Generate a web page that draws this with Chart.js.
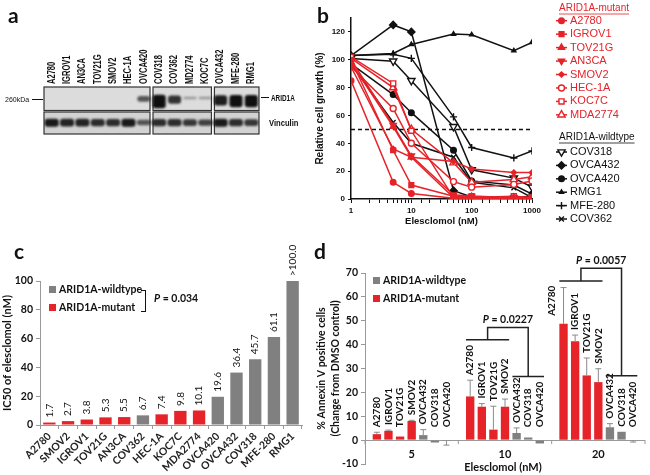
<!DOCTYPE html>
<html lang="en">
<head>
<meta charset="UTF-8">
<title>Elesclomol sensitivity of ARID1A-mutant cells</title>
<script src="https://cdn.jsdelivr.net/npm/chart.js"></script>
<style>
  body { margin: 0; background: #fff; }
  #fig { position: relative; width: 650px; height: 475px; overflow: hidden; color: #111; }
  #fig canvas { position: absolute; }
  .txt { position: absolute; white-space: nowrap; line-height: 1; }
  .panel { font: bold 21px Lato, sans-serif; }
  .blot { font-family: "Liberation Sans", sans-serif; font-weight: bold; transform-origin: 0 50%; }
  .key { font: bold 10.5px Lato, sans-serif; display: flex; align-items: center; height: 12px; }
  .key i.sw { display: inline-block; width: 7px; height: 7px; margin-right: 3px; }
  .rule { position: absolute; border-top: 1.2px solid #111; }
</style>
</head>
<body>
<div id="fig">
  <canvas id="blotChart" width="325" height="150" style="left:0;top:0"></canvas>
  <canvas id="growthChart" width="338" height="240" style="left:312px;top:0"></canvas>
  <canvas id="ic50Chart" width="312" height="235" style="left:0;top:240px"></canvas>
  <canvas id="annexinChart" width="338" height="235" style="left:312px;top:240px"></canvas>

  <div class="txt panel" style="left:8px;top:2px">a</div>
  <div class="txt panel" style="left:317px;top:2px">b</div>
  <div class="txt panel" style="left:14px;top:238px">c</div>
  <div class="txt panel" style="left:314px;top:238px">d</div>

  <!-- panel a side labels -->
  <div class="txt blot" style="left:5px;top:95.5px;font-size:7px;font-weight:normal">260kDa</div>
  <div class="rule" style="left:32px;top:99px;width:11px"></div>
  <div class="rule" style="left:261px;top:97px;width:8px;border-top-width:1.6px"></div>
  <div class="txt blot" style="left:271px;top:93.5px;font-size:8.5px;transform:scaleX(0.75)">ARID1A</div>
  <div class="txt blot" style="left:269px;top:118px;font-size:9.5px;transform:scaleX(0.8)">Vinculin</div>

  <!-- panel c key -->
  <div class="txt key" style="left:49px;top:283px"><i class="sw" style="background:#808080"></i>ARID1A-wildtype</div>
  <div class="txt key" style="left:49px;top:301px"><i class="sw" style="background:#e52329"></i>ARID1A-mutant</div>
  <div style="position:absolute;left:141px;top:290px;width:4px;height:20px;border:1.5px solid #111;border-left:none"></div>
  <div class="txt key" style="left:154px;top:292px"><i>P</i>&nbsp;= 0.034</div>

  <!-- panel d key -->
  <div class="txt key" style="left:373px;top:274px"><i class="sw" style="background:#808080"></i>ARID1A-wildtype</div>
  <div class="txt key" style="left:373px;top:292px"><i class="sw" style="background:#e52329"></i>ARID1A-mutant</div>
</div>

<script>
// ---------- data ----------
// a: blot lanes and band strength (0 none .. 1 strongest)
const blotLanes = ['A2780', 'IGROV1', 'AN3CA', 'TOV21G', 'SMOV2', 'HEC-1A', 'OVCA420',
                   'COV318', 'COV362', 'MD2774', 'KOC7C', 'OVCA432', 'MFE-280', 'RMG1'];
const arid1aBand = [0, 0, 0, 0, 0, 0, 0.6, 1, 0.75, 0.3, 0.3, 0.85, 0.95, 0.95];
const vinculinBand = [0.95, 0.9, 0.9, 0.85, 0.85, 0.95, 0.65, 0.85, 0.85, 0.8, 0.75, 0.95, 0.85, 0.8];
const blotBreaks = [7, 11]; // first lane of each new membrane piece

// b: dose response, relative cell growth (%)
const doses = [1, 5, 10, 50, 100, 500, 1000];
const growthA2780 = [85, 12, 4, 0.5, 0.5, 0.5, 0.5];
const growthIGROV1 = [100, 35, 10, 2, 2, 1, 1];
const growthTOV21G = [98, 52, 30, 1, 1, 1, 0.5];
const growthAN3CA = [100, 53, 31, 3, 2, 1, 1];
const growthSMOV2 = [95, 36, 30, 27, 21.5, 19, 19];
const growthHEC1A = [95, 65, 40, 12.5, 8.5, 10.5, 13];
const growthKOC7C = [102, 83, 49, 1, 1, 2, 1];
const growthMDA2774 = [101, 80, 50, 26, 12, 14, 16];
const growthCOV318 = [101, 99, 85, 52, 21, 15, 8.5];
const growthOVCA432 = [103, 125, 120, 6, 1.5, 1, 2];
const growthOVCA420 = [97, 75, 62, 35, 13, 10, 3.5];
const growthRMG1 = [103, 104.5, 111, 118.5, 118, 106.5, 112.5];
const growthMFE280 = [103, 104, 101, 59, 37, 29.5, 34.5];
const growthCOV362 = [97, 55, 40, 30, 12, 8, 1];
const cutoff = 50;

// c: IC50 of elesclomol (nM)
const icCells = ['A2780', 'SMOV2', 'IGROV1', 'TOV21G', 'AN3CA', 'COV362', 'HEC-1A', 'KOC7C',
                 'MDA2774', 'OVCA420', 'OVCA432', 'COV318', 'MFE-280', 'RMG1'];
const icValues = [1.7, 2.7, 3.8, 5.3, 5.5, 6.7, 7.4, 9.8, 10.1, 19.6, 36.4, 45.7, 61.1, 100];
const icText = ['1.7', '2.7', '3.8', '5.3', '5.5', '6.7', '7.4', '9.8', '10.1', '19.6', '36.4', '45.7', '61.1', '>100.0'];
const icMutant = [1, 1, 1, 1, 1, 0, 1, 1, 1, 0, 0, 0, 0, 0];

// d: Annexin V positive cells, change from DMSO control (%)
const doseGroups = ['5', '10', '20'];
const annexinLines = ['A2780', 'IGROV1', 'TOV21G', 'SMOV2', 'OVCA432', 'COV318', 'OVCA420'];
const annexinMutant = [1, 1, 1, 1, 0, 0, 0];
const annexinA2780 = [2.5, 18.3, 48.7];
const annexinIGROV1 = [3.9, 14.0, 41.4];
const annexinTOV21G = [1.5, 4.4, 27.1];
const annexinSMOV2 = [8.0, 14.0, 24.3];
const annexinOVCA432 = [2.1, 3.0, 5.4];
const annexinCOV318 = [-1.0, 1.1, 3.5];
const annexinOVCA420 = [-0.3, -1.4, -0.3];
const sdA2780 = [0.8, 6.8, 15.2];
const sdIGROV1 = [0.3, 1.3, 2.6];
const sdTOV21G = [0, 9.8, 7.3];
const sdSMOV2 = [0.3, 3.2, 5.6];
const sdOVCA432 = [2.3, 2.1, 1.5];
const sdCOV318 = [0, 0, 0];
const sdOVCA420 = [1.8, 0, 0.5];
const annexinPValues = ['0.0227', '0.0057']; // 10 nM, 20 nM

// ---------- setup ----------
const RED = '#e52329', GREY = '#808080', INK = '#111';
Chart.defaults.font.family = 'Lato, "Liberation Sans", sans-serif';
Chart.defaults.color = INK;
Chart.defaults.animation = false;
Chart.defaults.responsive = false;
Chart.defaults.plugins.legend.display = false;
Chart.defaults.plugins.tooltip.enabled = false;

// ---------- a: blot ----------
const membrane = {
  id: 'membrane',
  beforeDatasetsDraw(chart) {
    const {ctx, scales: {x, y}} = chart;
    const half = (x.getPixelForValue(1) - x.getPixelForValue(0)) / 2;
    const starts = [0, ...blotBreaks];
    const ends = [...blotBreaks.map(b => b - 1), blotLanes.length - 1];
    ctx.save();
    starts.forEach((s, k) => {
      const l = x.getPixelForValue(s) - half + (k ? 1.5 : 0);
      const r = x.getPixelForValue(ends[k]) + half - (k < ends.length - 1 ? 1.5 : 0);
      [[2, 1], [1, 0]].forEach(([t, b], row) => {
        const top = y.getPixelForValue(t) + (row ? 1.5 : 0);
        const bot = y.getPixelForValue(b);
        ctx.fillStyle = row ? '#d2d2d2' : '#dcdcdc';
        ctx.fillRect(l, top, r - l, bot - top);
        ctx.strokeStyle = '#333';
        ctx.lineWidth = 1.2;
        ctx.strokeRect(l, top, r - l, bot - top);
      });
    });
    ctx.filter = 'blur(1.1px)';
  },
  afterDatasetsDraw(chart) {
    chart.ctx.restore();
  },
  afterDraw(chart) {
    // lane names, condensed bold type reading upwards
    const {ctx, scales: {x}, chartArea} = chart;
    ctx.save();
    ctx.font = 'bold 10.5px "Liberation Sans", sans-serif';
    ctx.fillStyle = INK;
    ctx.textAlign = 'left';
    ctx.textBaseline = 'middle';
    blotLanes.forEach((name, i) => {
      ctx.save();
      ctx.translate(x.getPixelForValue(i), chartArea.top - 3);
      ctx.rotate(-Math.PI / 2);
      ctx.scale(0.72, 1);
      ctx.fillText(name, 0, 0);
      ctx.restore();
    });
    ctx.restore();
  }
};

new Chart(document.getElementById('blotChart'), {
  type: 'bar',
  data: {
    labels: blotLanes,
    datasets: [
      {
        data: arid1aBand.map(v => [1.52 - 0.42 * v * v, 1.55 + 0.12 * v]),
        backgroundColor: arid1aBand.map(v => `rgba(15,15,15,${Math.min(1, v * 1.1)})`),
        grouped: false, barPercentage: 0.85, categoryPercentage: 1, borderRadius: 3, borderSkipped: false
      },
      {
        data: vinculinBand.map(v => [0.5 - 0.2 * v, 0.5 + 0.16 * v]),
        backgroundColor: vinculinBand.map(v => `rgba(15,15,15,${v})`),
        grouped: false, barPercentage: 0.92, categoryPercentage: 1, borderRadius: 3, borderSkipped: false
      }
    ]
  },
  options: {
    layout: {padding: {left: 44, right: 66, top: 87, bottom: 16}},
    scales: {
      x: {display: false},
      y: {display: false, min: 0, max: 2}
    }
  },
  plugins: [membrane]
});

// ---------- b: dose response ----------
const mutantNames = ['A2780', 'IGROV1', 'TOV21G', 'AN3CA', 'SMOV2', 'HEC-1A', 'KOC7C', 'MDA2774'];
const mutantGrowth = [growthA2780, growthIGROV1, growthTOV21G, growthAN3CA, growthSMOV2, growthHEC1A, growthKOC7C, growthMDA2774];
const wildNames = ['COV318', 'OVCA432', 'OVCA420', 'RMG1', 'MFE-280', 'COV362'];
const wildGrowth = [growthCOV318, growthOVCA432, growthOVCA420, growthRMG1, growthMFE280, growthCOV362];

// [pointStyle, rotation, filled, radius]
const mutantMarks = [['circle', 0, true, 2.8], ['rect', 0, true, 3.4], ['triangle', 0, true, 3.6], ['triangle', 180, true, 3.6],
                     ['rectRot', 0, true, 2.6], ['circle', 0, false, 3], ['rect', 0, false, 3.6], ['triangle', 0, false, 4.2]];
const wildMarks = [['triangle', 180, false, 4.2], ['rectRot', 0, true, 3.6], ['circle', 0, true, 2.8], ['triangle', 0, true, 2.4],
                   ['cross', 0, false, 3.6], ['crossRot', 0, false, 3.4]];

function curve(name, ys, color, mark) {
  const [style, rot, filled, r] = mark;
  return {
    label: name,
    data: doses.map((d, i) => ({x: d, y: ys[i]})),
    borderColor: color,
    backgroundColor: filled ? color : '#fff',
    borderWidth: 1.5,
    pointStyle: style,
    pointRotation: rot,
    pointRadius: r,
    pointBorderWidth: 1.4
  };
}

const growthSets = [
  ...mutantNames.map((n, i) => curve(n, mutantGrowth[i], RED, mutantMarks[i])),
  ...wildNames.map((n, i) => curve(n, wildGrowth[i], INK, wildMarks[i])),
  {
    label: 'IC50', data: [{x: doses[0], y: cutoff}, {x: doses[doses.length - 1], y: cutoff}],
    borderColor: INK, borderWidth: 1.5, borderDash: [4, 3], pointRadius: 0
  }
];

const curveLegend = {
  id: 'curveLegend',
  afterDraw(chart) {
    const ctx = chart.ctx;
    const sets = chart.data.datasets;
    const block = (title, color, first, count, headY, itemY, step) => {
      ctx.save();
      ctx.fillStyle = color;
      ctx.strokeStyle = color;
      ctx.textBaseline = 'middle';
      ctx.font = '10px "Liberation Sans", sans-serif';
      ctx.fillText(title, 247, headY);
      const w = ctx.measureText(title).width;
      ctx.lineWidth = 0.8;
      ctx.beginPath();
      ctx.moveTo(247, headY + 6);
      ctx.lineTo(247 + w, headY + 6);
      ctx.stroke();
      ctx.font = '11px "Liberation Sans", sans-serif';
      for (let k = 0; k < count; k++) {
        const ds = sets[first + k];
        const y = itemY + step * k;
        ctx.lineWidth = 1.5;
        ctx.strokeStyle = ds.borderColor;
        ctx.beginPath();
        ctx.moveTo(244, y);
        ctx.lineTo(255, y);
        ctx.stroke();
        ctx.fillStyle = ds.backgroundColor;
        ctx.lineWidth = ds.pointBorderWidth;
        Chart.helpers.drawPoint(ctx, {
          pointStyle: ds.pointStyle, rotation: ds.pointRotation,
          radius: ds.pointRadius, borderWidth: ds.pointBorderWidth
        }, 249.5, y);
        ctx.fillStyle = color;
        ctx.fillText(ds.label, 258, y);
      }
      ctx.restore();
    };
    block('ARID1A-mutant', RED, 0, mutantNames.length, 8, 20.7, 13.45);
    block('ARID1A-wildtype', INK, mutantNames.length, wildNames.length, 137, 152, 13.4);
  }
};

new Chart(document.getElementById('growthChart'), {
  type: 'line',
  data: {datasets: growthSets},
  options: {
    layout: {padding: {left: 0, right: 118, top: 18, bottom: 0}},
    scales: {
      x: {
        type: 'logarithmic', min: 1, max: 1000,
        border: {color: INK, width: 1.5},
        grid: {drawOnChartArea: false, tickLength: 4, color: INK},
        ticks: {
          autoSkip: false, maxRotation: 0, padding: 3,
          font: {family: '"Liberation Sans", sans-serif', size: 8, weight: 'bold'},
          callback: v => ([1, 10, 100, 1000].includes(v) ? String(v) : '')
        },
        title: {
          display: true, text: 'Elesclomol (nM)',
          font: {family: '"Liberation Sans", sans-serif', size: 9.5, weight: 'bold'},
          padding: {top: 0, bottom: 13}
        },
        afterFit: s => { s.height = 41; }
      },
      y: {
        min: 0, max: 130,
        border: {color: INK, width: 1.5},
        grid: {drawOnChartArea: false, tickLength: 3, color: INK},
        ticks: {
          stepSize: 20, includeBounds: false, padding: 3,
          font: {family: '"Liberation Sans", sans-serif', size: 8, weight: 'bold'}
        },
        title: {
          display: true, text: 'Relative cell growth (%)',
          font: {family: '"Liberation Sans", sans-serif', size: 10, weight: 'bold'},
          padding: {top: 2, bottom: 0}
        },
        afterFit: s => { s.width = 39; }
      }
    }
  },
  plugins: [curveLegend]
});

// ---------- c: IC50 bars ----------
const icLabels = {
  id: 'icLabels',
  afterDatasetsDraw(chart) {
    const ctx = chart.ctx;
    ctx.save();
    ctx.font = '10px Lato, sans-serif';
    ctx.fillStyle = INK;
    ctx.textAlign = 'left';
    ctx.textBaseline = 'middle';
    chart.getDatasetMeta(0).data.forEach((bar, i) => {
      ctx.save();
      ctx.translate(bar.x, bar.y - 5);
      ctx.rotate(-Math.PI / 2);
      ctx.fillText(icText[i], 0, 0);
      ctx.restore();
    });
    ctx.restore();
  }
};

new Chart(document.getElementById('ic50Chart'), {
  type: 'bar',
  data: {
    labels: icCells,
    datasets: [{
      data: icValues,
      backgroundColor: icMutant.map(m => (m ? RED : GREY)),
      barPercentage: 0.66, categoryPercentage: 1
    }]
  },
  options: {
    layout: {padding: {left: 0, right: 10, top: 41, bottom: 0}},
    scales: {
      x: {
        grid: {drawOnChartArea: false, tickLength: 4, color: '#999'},
        border: {color: '#999'},
        ticks: {autoSkip: false, minRotation: 45, maxRotation: 45, padding: 1, color: '#222',
                font: {size: 10.5, weight: 'bold'}},
        afterFit: s => { s.height = 50; }
      },
      y: {
        min: 0, max: 100,
        grid: {drawOnChartArea: false, tickLength: 4, color: '#999'},
        border: {color: '#999'},
        ticks: {stepSize: 10, padding: 3, font: {size: 10.5, weight: 'bold'}},
        title: {display: true, text: 'IC50 of elesclomol (nM)', font: {size: 11, weight: 'bold'},
                padding: {top: 1, bottom: 0}},
        afterFit: s => { s.width = 40; }
      }
    }
  },
  plugins: [icLabels]
});

// ---------- d: Annexin V ----------
const annexinValues = [annexinA2780, annexinIGROV1, annexinTOV21G, annexinSMOV2, annexinOVCA432, annexinCOV318, annexinOVCA420];
const annexinSD = [sdA2780, sdIGROV1, sdTOV21G, sdSMOV2, sdOVCA432, sdCOV318, sdOVCA420];

const annexinDecor = {
  id: 'annexinDecor',
  afterDatasetsDraw(chart) {
    const {ctx, scales: {x, y}, chartArea} = chart;
    const zero = y.getPixelForValue(0);
    ctx.save();

    // error bars
    ctx.strokeStyle = '#8a8a8a';
    ctx.lineWidth = 1;
    annexinLines.forEach((name, i) => {
      chart.getDatasetMeta(i).data.forEach((bar, g) => {
        const v = annexinValues[i][g], sd = annexinSD[i][g];
        if (!sd) return;
        const end = y.getPixelForValue(v + (v < 0 ? -sd : sd));
        ctx.beginPath();
        ctx.moveTo(bar.x, bar.y);
        ctx.lineTo(bar.x, end);
        ctx.moveTo(bar.x - 3, end);
        ctx.lineTo(bar.x + 3, end);
        ctx.stroke();
      });
    });

    // cell line names above bars
    ctx.font = 'bold 10px Lato, sans-serif';
    ctx.fillStyle = INK;
    ctx.textAlign = 'left';
    ctx.textBaseline = 'middle';
    annexinLines.forEach((name, i) => {
      const meta = chart.getDatasetMeta(i);
      meta.data.forEach((bar, g) => {
        const v = annexinValues[i][g], sd = annexinSD[i][g];
        const top = v >= 0 ? y.getPixelForValue(v + sd) : zero;
        let bx = bar.x;
        let base = Math.min(top - 5, zero - 13);
        const w = ctx.measureText(name).width;
        if (base - w < chartArea.top + 5) {
          const next = chart.getDatasetMeta(i + 1).data[g];
          bx -= next.x - bar.x;
          base = bar.y - 8;
        }
        ctx.save();
        ctx.translate(bx, base);
        ctx.rotate(-Math.PI / 2);
        ctx.fillText(name, 0, 0);
        ctx.restore();
      });
    });

    // category ticks, labels and axis title
    const step = x.getPixelForValue(1) - x.getPixelForValue(0);
    ctx.strokeStyle = '#999';
    ctx.beginPath();
    for (let g = 0; g <= doseGroups.length; g++) {
      const px = x.getPixelForValue(g) - step / 2;
      ctx.moveTo(px, zero);
      ctx.lineTo(px, zero + 4);
    }
    ctx.stroke();
    ctx.font = 'bold 11px Lato, sans-serif';
    ctx.textAlign = 'center';
    doseGroups.forEach((d, g) => ctx.fillText(d, x.getPixelForValue(g), zero + 14));
    ctx.fillText('Elesclomol (nM)', (chartArea.left + chartArea.right) / 2 - 2, chartArea.bottom + 3);

    // significance brackets for 10 and 20 nM
    const levels = [[42, 47.2, 26.7], [66.7, 72, 27]];
    ctx.strokeStyle = '#222';
    ctx.lineWidth = 1.5;
    annexinPValues.forEach((p, k) => {
      const g = k + 1;
      const bar = i => chart.getDatasetMeta(i).data[g];
      const mL = bar(0).x - bar(0).width / 2, mR = bar(3).x + bar(3).width / 2;
      const wL = bar(4).x - bar(4).width / 2, wR = bar(6).x + bar(6).width / 2;
      const [mut, top, wild] = levels[k].map(v => y.getPixelForValue(v));
      const mMid = (mL + mR) / 2, wMid = (wL + wR) / 2;
      ctx.beginPath();
      ctx.moveTo(mL, mut); ctx.lineTo(mR, mut);
      ctx.moveTo(mMid, mut); ctx.lineTo(mMid, top); ctx.lineTo(wMid, top); ctx.lineTo(wMid, wild);
      ctx.moveTo(wL, wild); ctx.lineTo(wR, wild);
      ctx.stroke();
      const cx = (mMid + wMid) / 2, ty = top - 8;
      ctx.font = 'bold 10.5px Lato, sans-serif';
      const rest = ' = ' + p;
      const rw = ctx.measureText(rest).width;
      ctx.font = 'italic bold 10.5px Lato, sans-serif';
      const pw = ctx.measureText('P').width;
      const x0 = cx - (pw + rw) / 2;
      ctx.textAlign = 'left';
      ctx.fillText('P', x0, ty);
      ctx.font = 'bold 10.5px Lato, sans-serif';
      ctx.fillText(rest, x0 + pw, ty);
    });
    ctx.restore();
  }
};

new Chart(document.getElementById('annexinChart'), {
  type: 'bar',
  data: {
    labels: doseGroups,
    datasets: annexinLines.map((name, i) => ({
      label: name,
      data: annexinValues[i],
      backgroundColor: annexinMutant[i] ? RED : GREY,
      barPercentage: 0.72, categoryPercentage: 0.87
    }))
  },
  options: {
    layout: {padding: {left: 0, right: 5, top: 33, bottom: 11}},
    scales: {
      x: {display: false},
      y: {
        min: -10, max: 70,
        border: {color: '#999'},
        grid: {
          drawOnChartArea: true, tickLength: 4, tickColor: '#999',
          color: c => (c.tick && c.tick.value === 0 ? '#999' : 'rgba(0,0,0,0)')
        },
        ticks: {stepSize: 10, padding: 3, font: {size: 10.5, weight: 'bold'}},
        title: {
          display: true, text: ['% Annexin V positive cells', '(Change from DMSO control)'],
          font: {size: 10.5, weight: 'bold', lineHeight: 1.3}, padding: {top: 3, bottom: 0}
        },
        afterFit: s => { s.width = 53; }
      }
    }
  },
  plugins: [annexinDecor]
});
</script>
</body>
</html>
